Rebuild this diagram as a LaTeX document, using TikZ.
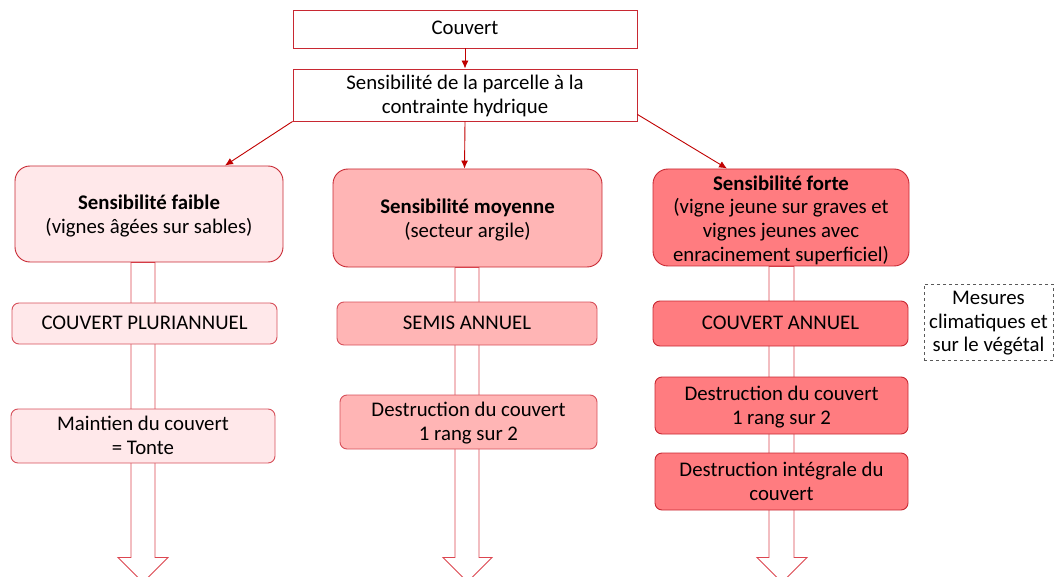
\documentclass[tikz,border=0pt]{standalone}
\usepackage{fontspec}
\setmainfont{Carlito}
\usetikzlibrary{calc,arrows.meta}
\definecolor{bord}{RGB}{200,40,50}
\definecolor{bordl}{RGB}{215,80,90}
\definecolor{arr}{RGB}{192,0,0}
\definecolor{fillA}{RGB}{255,232,234}
\definecolor{fillB}{RGB}{255,181,181}
\definecolor{fillC}{RGB}{255,124,128}
\definecolor{hol}{RGB}{220,70,80}
\newcommand{\T}[2][3pt]{\raisebox{-#1}[\height][\depth]{\begin{tabular}{@{}c@{}}#2\end{tabular}}}
\pgfdeclarelayer{bg}
\pgfsetlayers{bg,main}
\tikzset{
  base/.style={draw=bord, line width=0.9pt, align=center, inner sep=0pt, anchor=center,
    font=\fontsize{20.8}{23.6}\selectfont},
  topbox/.style={base},
  bigbox/.style={base, rounded corners=15pt},
  smallbox/.style={base, draw=bordl, rounded corners=7pt},
  conn/.style={draw=arr, line width=0.9pt, -{Latex[length=8pt,width=7pt]}},
  hollow/.style={draw=hol, line width=0.9pt, fill=white, line join=miter},
  note/.style={draw=black!65, dashed, line width=0.8pt, align=center, inner sep=0pt,
    font=\fontsize{20.8}{23.6}\selectfont}
}
\begin{document}
\begin{tikzpicture}[x=1pt,y=-1pt]
\useasboundingbox (0,0) rectangle (1054,577);
\clip (0,0) rectangle (1054,577);
% nodes
\node[topbox, minimum width=344pt, minimum height=38pt] (couv) at (465,29) {\T[1pt]{Couvert}};
\node[topbox, minimum width=344pt, minimum height=52pt] (sens) at (465,95)
  {\T[2pt]{Sensibilité de la parcelle à la\\contrainte hydrique}};
\node[bigbox, fill=fillA, minimum width=268pt, minimum height=96pt] (faible) at (149,214)
  {\T{\textbf{Sensibilité faible}\\(vignes âgées sur sables)}};
\node[bigbox, fill=fillB, minimum width=269pt, minimum height=98pt] (moyenne) at (467.5,218)
  {\T{\textbf{Sensibilité moyenne}\\(secteur argile)}};
\node[bigbox, fill=fillC, minimum width=256pt, minimum height=97pt] (forte) at (781,217.5)
  {\T[3.5pt]{\textbf{Sensibilité forte}\\(vigne jeune sur graves et\\vignes jeunes avec\\enracinement superficiel)}};
% small boxes
\node[smallbox, fill=fillA, minimum width=265pt, minimum height=41pt] (pluri) at (144.5,323.5) {\T[1pt]{COUVERT PLURIANNUEL}};
\node[smallbox, fill=fillA, minimum width=264pt, minimum height=54pt] (maint) at (143,436) {\T[1.5pt]{Maintien du couvert\\= Tonte}};
\node[smallbox, fill=fillB, minimum width=260pt, minimum height=43pt] (semis) at (467,323.5) {\T[1pt]{SEMIS ANNUEL}};
\node[smallbox, fill=fillB, minimum width=257pt, minimum height=54pt] (destm) at (468.5,422) {\T[1.5pt]{Destruction du couvert\\1 rang sur 2}};
\node[smallbox, draw=bord, fill=fillC, minimum width=255pt, minimum height=45pt] (annuel) at (780.5,323.5) {\T[1pt]{COUVERT ANNUEL}};
\node[smallbox, draw=bord, fill=fillC, minimum width=253pt, minimum height=57pt] (dests) at (781.5,405.5) {\T[2pt]{Destruction du couvert\\1 rang sur 2}};
\node[smallbox, draw=bord, fill=fillC, minimum width=253pt, minimum height=57pt] (integ) at (781.5,481.5) {\T[2pt]{Destruction intégrale du\\couvert}};
\node[note, minimum width=129pt, minimum height=76pt] (mes) at (988.5,322) {\T[1.5pt]{Mesures\\climatiques et\\sur le végétal}};
% hollow arrows (behind the boxes)
\begin{pgfonlayer}{bg}
\draw[hollow] ([xshift=-18pt]faible.south) -- ++(0,295) -- ++(-13,0) -- ++(25,25) -- ++(25,-25) -- ++(-13,0) -- ([xshift=6pt]faible.south) -- cycle;
\draw[hollow] ([xshift=-12.5pt]moyenne.south) -- ++(0,290) -- ++(-12,0) -- ++(24.5,24.5) -- ++(24.5,-24.5) -- ++(-13,0) -- ([xshift=11.5pt]moyenne.south) -- cycle;
\draw[hollow] ([xshift=-12pt]forte.south) -- ++(0,291) -- ++(-12,0) -- ++(25,25) -- ++(25,-25) -- ++(-13,0) -- ([xshift=13pt]forte.south) -- cycle;
\end{pgfonlayer}
% connectors
\draw[conn] (couv) -- (sens);
\draw[conn] (sens.south west) -- ([xshift=76pt]faible.north);
\draw[conn] (sens.south) -- ([xshift=-3pt]moyenne.north);
\draw[conn] ([yshift=7pt]sens.south east) -- ([xshift=-54pt]forte.north);
\end{tikzpicture}
\end{document}
